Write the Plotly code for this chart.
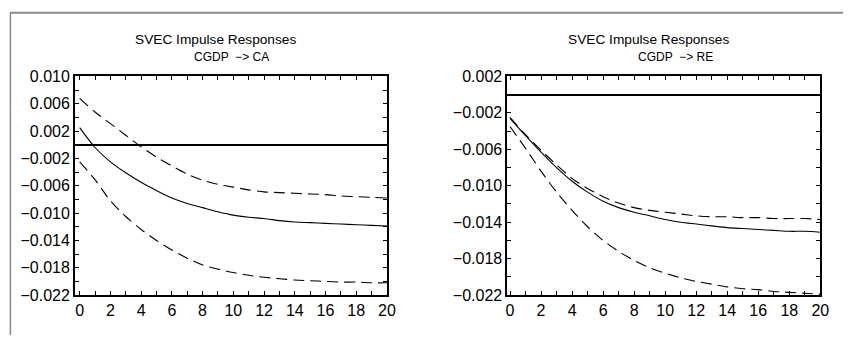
import plotly.graph_objects as go

# ---------------- data ----------------
horizon = list(range(21))

# CGDP -> CA
ca_point = [0.0025, -0.0004, -0.0025, -0.0041, -0.0055, -0.0067, -0.0078, -0.0086, -0.0092,
            -0.0098, -0.0103, -0.0106, -0.0108, -0.0111, -0.0113, -0.0114, -0.0115,
            -0.0116, -0.0117, -0.0118, -0.0119]
ca_upper = [0.0068, 0.0048, 0.0031, 0.0014, -0.0003, -0.0018, -0.0031, -0.0043, -0.0052,
            -0.0058, -0.0062, -0.0066, -0.0069, -0.0070, -0.0071, -0.0072, -0.0073,
            -0.0075, -0.0076, -0.0077, -0.0078]
ca_lower = [-0.0025, -0.0051, -0.0082, -0.0105, -0.0124, -0.0140, -0.0154, -0.0166, -0.0176,
            -0.0182, -0.0187, -0.0191, -0.0194, -0.0196, -0.0198, -0.0199, -0.0200,
            -0.0201, -0.0201, -0.0202, -0.0202]

# CGDP -> RE
re_point = [-0.0026, -0.0045, -0.0063, -0.0080, -0.0095, -0.0107, -0.0117, -0.0124, -0.0129,
            -0.0133, -0.0137, -0.0140, -0.0142, -0.0144, -0.0146, -0.0147, -0.0148,
            -0.0149, -0.0150, -0.0150, -0.0151]
re_upper = [-0.0025, -0.0044, -0.0061, -0.0077, -0.0092, -0.0103, -0.0112, -0.0119, -0.0124,
            -0.0127, -0.0129, -0.0131, -0.0133, -0.0134, -0.0134, -0.0135, -0.0135,
            -0.0136, -0.0136, -0.0136, -0.0137]
re_lower = [-0.0035, -0.0059, -0.0084, -0.0107, -0.0127, -0.0145, -0.0160, -0.0172, -0.0182,
            -0.0190, -0.0196, -0.0201, -0.0205, -0.0208, -0.0211, -0.0213, -0.0214,
            -0.0216, -0.0217, -0.0218, -0.0219]

x_tickvals = list(range(21))
x_ticktext = [str(v) if v % 2 == 0 else "" for v in x_tickvals]

ca_y_tickvals = [round(0.010 - 0.002 * i, 3) for i in range(17)]
ca_y_ticktext = ["0.010", "", "0.006", "", "0.002", "", "\u22120.002", "", "\u22120.006", "",
                 "\u22120.010", "", "\u22120.014", "", "\u22120.018", "", "\u22120.022"]
re_y_tickvals = [round(0.002 - 0.002 * i, 3) for i in range(13)]
re_y_ticktext = ["0.002", "", "\u22120.002", "", "\u22120.006", "", "\u22120.010", "",
                 "\u22120.014", "", "\u22120.018", "", "\u22120.022"]

title_main = "SVEC Impulse Responses"
sub_ca = "CGDP  \u2212> CA"
sub_re = "CGDP  \u2212> RE"

# ---------------- figure ----------------
W, H = 852, 344
fig = go.Figure()

def add_set(point, upper, lower, xa, ya):
    for ys, dash in ((upper, "11px,6px"), (lower, "11px,6px"), (point, "solid")):
        fig.add_trace(go.Scatter(x=horizon, y=ys, mode="lines", xaxis=xa, yaxis=ya,
                                 line=dict(color="black", width=1.1, dash=dash,
                                           shape="spline", smoothing=0.8),
                                 showlegend=False, hoverinfo="skip"))

add_set(ca_point, ca_upper, ca_lower, "x", "y")
add_set(re_point, re_upper, re_lower, "x2", "y2")

font = dict(family="Liberation Sans, Arial, sans-serif", size=16, color="black")
ydom = [1 - 302 / H, 1 - 72 / H]

common_x = dict(tickmode="array", tickvals=x_tickvals, ticktext=x_ticktext, ticks="inside",
                ticklen=4, tickwidth=1, tickcolor="black", showline=True, linecolor="black",
                linewidth=2, mirror="ticks", showgrid=False, zeroline=False, tickfont=font,
                fixedrange=True)
common_y = dict(tickmode="array", ticks="inside", ticklen=4, tickwidth=1, tickcolor="black",
                showline=True, linecolor="black", linewidth=2, mirror="ticks", showgrid=False,
                zeroline=True, zerolinecolor="black", zerolinewidth=1.6, tickfont=font,
                fixedrange=True)

fig.update_layout(
    width=W, height=H, margin=dict(l=0, r=0, t=0, b=0),
    paper_bgcolor="white", plot_bgcolor="white",
    xaxis=dict(domain=[74 / W, 390 / W], range=[-0.3, 20], anchor="y", **common_x),
    yaxis=dict(domain=ydom, range=[-0.022, 0.010], anchor="x",
               tickvals=ca_y_tickvals, ticktext=ca_y_ticktext, **common_y),
    xaxis2=dict(domain=[512 / W, 829 / W], range=[-0.17, 20], anchor="y2", **common_x),
    yaxis2=dict(domain=ydom, range=[-0.022, 0.002], anchor="x2",
                tickvals=re_y_tickvals, ticktext=re_y_ticktext, **common_y),
    shapes=[
        dict(type="line", xref="paper", yref="paper", x0=8 / W, x1=1, y0=1 - 5 / H, y1=1 - 5 / H,
             line=dict(color="#8a8a8a", width=2)),
        dict(type="line", xref="paper", yref="paper", x0=8.5 / W, x1=8.5 / W, y0=0, y1=1 - 5 / H,
             line=dict(color="#8a8a8a", width=1.5)),
    ],
)

tfont = dict(family="Liberation Sans, Arial, sans-serif", size=13.7, color="black")
sfont = dict(family="Liberation Sans, Arial, sans-serif", size=12, color="black")
for cx, sx, sub in ((216.5, 232.5, sub_ca), (655, 682.5, sub_re)):
    fig.add_annotation(text=title_main, x=cx / W, y=1 - 33 / H, xref="paper", yref="paper",
                       showarrow=False, xanchor="center", yanchor="middle", font=tfont)
    fig.add_annotation(text=sub, x=sx / W, y=1 - 52 / H, xref="paper", yref="paper",
                       showarrow=False, xanchor="center", yanchor="middle", font=sfont)

fig.write_html("out.html")
